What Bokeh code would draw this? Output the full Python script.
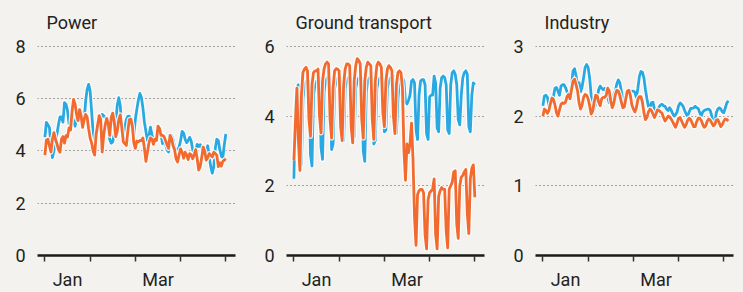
from bokeh.plotting import figure
from bokeh.layouts import row
from bokeh.models import FixedTicker
from bokeh.embed import file_html
from bokeh.resources import INLINE

BG = "#f3f2ee"
BLUE = "#29a9e1"
ORANGE = "#f26a2e"
TEXT = "#222222"
FONT = "Roboto"

month_ticks = [0, 30, 60, 90, 120]
month_label_pos = [15, 75]
month_labels = ["Jan", "Mar"]

power_2019 = [4.53,5.09,5.0,4.9,4.21,3.75,4.0,4.4,4.65,5.0,
 5.3,5.3,5.1,5.85,5.79,5.55,5.05,5.1,5.45,5.1,
 4.95,5.25,5.4,5.6,5.5,5.0,5.1,5.9,6.35,6.55,
 6.3,5.5,4.7,4.42,4.55,4.8,5.0,5.2,5.4,5.35,
 5.28,5.22,4.85,4.45,4.3,4.35,4.65,5.1,5.75,6.04,
 5.72,4.85,4.5,4.9,5.2,5.32,5.33,5.2,4.95,4.6,
 5.22,5.6,5.95,6.2,6.05,5.65,5.1,4.75,4.4,4.55,
 4.91,4.62,4.42,4.45,4.55,4.8,4.85,4.65,4.28,4.45,
 4.28,4.05,3.96,4.3,4.6,4.45,4.15,4.03,4.03,4.15,
 4.4,4.75,4.68,4.45,4.32,4.4,4.52,4.38,4.05,3.9,
 4.03,4.25,4.17,4.24,4.15,3.93,3.9,4.05,4.2,3.75,
 3.4,3.15,3.4,4.1,4.45,4.4,4.05,3.8,3.75,4.25,
 4.65]
power_2020 = [3.84,4.42,4.45,4.2,3.96,4.45,4.7,4.45,4.28,4.05,
 3.95,4.45,4.55,4.3,4.59,4.53,4.88,4.8,5.5,5.97,
 5.8,5.4,5.16,5.58,5.35,4.9,5.2,5.4,5.3,4.85,
 4.5,4.3,4.0,3.84,4.65,5.0,5.35,5.2,3.96,4.6,
 5.0,5.25,5.05,4.6,5.28,5.45,5.1,4.55,4.75,5.2,
 5.38,4.9,4.35,4.28,4.21,4.75,5.2,5.22,4.95,4.3,
 4.1,4.38,4.35,4.4,4.4,4.5,4.1,3.6,3.95,4.3,
 4.5,4.45,4.25,4.45,4.4,4.95,4.87,4.6,4.6,4.55,
 4.4,4.25,4.1,4.6,4.47,4.2,4.05,3.7,3.58,3.85,
 4.08,3.95,3.72,3.95,3.84,3.67,3.9,3.86,3.7,3.85,
 4.05,3.7,3.27,3.4,3.75,4.15,3.98,3.65,3.75,3.9,
 3.84,3.77,3.95,3.9,3.84,3.4,3.55,3.42,3.6,3.65,
 3.7]

ground_2019 = [2.2,4.3,4.8,4.9,3.0,2.6,4.5,4.9,5.0,5.0,
 5.0,2.9,2.57,4.6,4.9,5.0,5.0,5.1,3.1,2.76,
 4.7,5.0,5.1,5.1,5.1,3.04,3.2,4.8,5.0,5.1,
 5.1,5.1,3.4,3.3,4.8,5.0,5.1,5.1,5.1,3.4,
 3.4,4.8,5.0,5.1,5.1,5.1,3.0,2.7,4.7,5.0,
 5.1,5.1,5.1,3.2,3.3,4.8,5.0,5.1,5.1,5.15,
 3.55,3.6,4.8,5.0,5.1,5.1,5.15,3.6,3.5,4.5,
 5.0,5.1,5.1,5.0,4.4,4.35,4.45,4.6,5.0,5.05,
 4.95,3.6,3.33,4.6,5.0,5.05,5.05,4.9,3.5,3.33,
 4.55,4.6,4.6,5.15,4.95,3.65,3.55,4.8,5.1,5.15,
 5.1,4.9,3.6,3.5,4.9,5.25,5.3,5.2,4.9,3.9,
 3.75,4.6,5.1,5.25,5.3,5.2,3.7,3.55,4.6,4.95,4.9]
ground_2020 = [2.73,3.8,4.8,3.3,2.44,4.6,5.25,5.35,5.4,5.3,
 3.9,3.42,4.9,5.25,5.3,5.3,5.35,4.0,3.52,5.0,
 5.35,5.5,5.55,5.5,3.9,3.37,4.8,5.3,5.36,5.35,
 5.3,3.7,3.3,4.9,5.35,5.5,5.5,5.45,3.7,3.23,
 5.0,5.45,5.65,5.6,5.5,3.9,3.37,5.0,5.4,5.55,
 5.5,5.45,3.9,3.33,5.0,5.45,5.55,5.5,5.4,4.1,
 3.7,5.0,5.35,5.45,5.4,5.3,4.0,3.5,4.9,5.25,
 5.3,5.25,4.8,3.0,2.16,3.2,2.95,3.2,3.8,2.75,
 1.1,0.29,1.75,1.86,1.9,1.9,1.8,0.6,0.19,1.6,
 1.8,1.85,1.9,2.2,0.6,0.19,1.7,1.86,1.95,1.9,
 1.9,0.7,0.22,1.9,2.0,2.1,2.4,2.43,0.9,0.49,
 2.0,2.25,2.3,2.4,2.47,1.2,0.63,2.2,2.5,2.6,1.67]

industry_2019 = [2.15,2.29,2.30,2.27,2.15,2.17,2.19,2.28,2.40,2.41,
 2.36,2.30,2.43,2.45,2.45,2.41,2.35,2.3,2.32,2.45,
 2.65,2.68,2.58,2.45,2.48,2.35,2.42,2.55,2.7,2.74,
 2.7,2.55,2.3,2.15,2.1,2.18,2.27,2.38,2.43,2.4,
 2.38,2.4,2.35,2.27,2.19,2.24,2.28,2.31,2.36,2.46,
 2.52,2.48,2.36,2.23,2.15,2.28,2.35,2.36,2.36,2.36,
 2.36,2.34,2.27,2.4,2.57,2.64,2.63,2.55,2.38,2.25,
 2.14,2.12,2.19,2.2,2.1,2.04,2.08,2.13,2.16,2.17,
 2.15,2.14,2.1,2.08,2.12,2.09,2.04,2.0,2.02,2.06,
 2.15,2.19,2.17,2.14,2.08,2.03,2.0,2.06,2.11,2.11,
 2.12,2.14,2.12,2.11,2.05,2.0,2.06,2.08,2.09,2.1,
 2.1,2.08,2.0,1.88,1.9,2.05,2.1,2.12,2.1,2.06,
 2.05,2.12,2.19,2.22]
industry_2020 = [2.0,2.1,2.08,2.04,2.08,2.18,2.26,2.24,2.16,2.05,
 2.0,2.09,2.17,2.19,2.18,2.2,2.28,2.31,2.25,2.38,
 2.5,2.53,2.45,2.36,2.19,2.1,2.16,2.27,2.31,2.3,
 2.25,2.15,2.03,2.07,2.2,2.3,2.29,2.2,2.15,2.25,
 2.27,2.27,2.3,2.4,2.36,2.22,2.12,2.18,2.3,2.37,
 2.36,2.3,2.2,2.12,2.13,2.25,2.36,2.37,2.3,2.16,
 2.1,2.06,2.12,2.24,2.28,2.28,2.2,2.05,1.95,1.98,
 2.06,2.1,2.08,2.03,1.98,2.03,2.09,2.08,2.06,2.04,
 1.98,1.93,1.96,2.0,1.99,1.96,1.92,1.88,1.84,1.9,
 1.97,1.98,1.93,1.88,1.84,1.88,1.94,1.97,1.95,1.9,
 1.85,1.85,1.92,1.97,1.97,1.94,1.88,1.84,1.86,1.93,
 1.96,1.94,1.9,1.86,1.88,1.94,1.95,1.9,1.85,1.88,
 1.93,1.96,1.95,1.93]

H = 292


def make_panel(title, y_ticks, y_top, s2019, s2020, width, border_left, border_right):
    p = figure(width=width, height=H, x_range=(-4.9, 126.4), y_range=(0, y_top),
               output_backend="svg", toolbar_location=None,
               min_border_left=border_left, min_border_right=border_right,
               min_border_top=40, min_border_bottom=35)
    p.background_fill_color = BG
    p.border_fill_color = BG
    p.outline_line_color = None

    p.title.text = title
    p.title.text_font = FONT
    p.title.text_font_size = "18px"
    p.title.text_font_style = "normal"
    p.title.text_color = TEXT
    p.title.align = "left"
    p.title.offset = 9
    p.title.standoff = 16

    p.xgrid.visible = False
    p.ygrid.ticker = FixedTicker(ticks=y_ticks)
    p.ygrid.grid_line_color = "#555555"
    p.ygrid.grid_line_dash = "1 3"
    p.ygrid.grid_line_width = 1

    xa = p.xaxis[0]
    xa.ticker = FixedTicker(ticks=month_label_pos, minor_ticks=month_ticks)
    xa.major_label_overrides = {k: v for k, v in zip(month_label_pos, month_labels)}
    xa.major_tick_out = 0
    xa.major_tick_in = 0
    xa.minor_tick_out = 6
    xa.minor_tick_in = 0
    xa.minor_tick_line_color = "#333333"
    xa.minor_tick_line_width = 1.5
    xa.axis_line_color = "#1a1a1a"
    xa.axis_line_width = 2.5
    xa.major_label_standoff = 7
    xa.major_label_text_font = FONT
    xa.major_label_text_font_size = "18px"
    xa.major_label_text_color = TEXT

    ya = p.yaxis[0]
    ya.ticker = FixedTicker(ticks=y_ticks)
    ya.axis_line_color = None
    ya.major_tick_line_color = None
    ya.minor_tick_line_color = None
    ya.major_label_standoff = 6
    ya.major_label_text_font = FONT
    ya.major_label_text_font_size = "18px"
    ya.major_label_text_color = TEXT

    x19 = list(range(len(s2019)))
    x20 = list(range(len(s2020)))
    p.line(x19, s2019, line_color="white", line_width=5.2, line_alpha=0.85, line_join="round")
    p.line(x19, s2019, line_color=BLUE, line_width=2.8, line_join="round")
    p.line(x20, s2020, line_color="white", line_width=5.2, line_alpha=0.85, line_join="round")
    p.line(x20, s2020, line_color=ORANGE, line_width=2.8, line_join="round")
    return p


p1 = make_panel("Power", [0, 2, 4, 6, 8], 8.227, power_2019, power_2020, 257, 37, 22)
p2 = make_panel("Ground transport", [0, 2, 4, 6], 6.17, ground_2019, ground_2020, 249, 29, 22)
p3 = make_panel("Industry", [0, 1, 2, 3], 3.085, industry_2019, industry_2020, 237, 29, 10)

layout = row(p1, p2, p3, spacing=0)

html = file_html(layout, INLINE)
html = html.replace("<body>", "<body style=\"background:%s\">" % BG)
open("out.html", "w").write(html)
